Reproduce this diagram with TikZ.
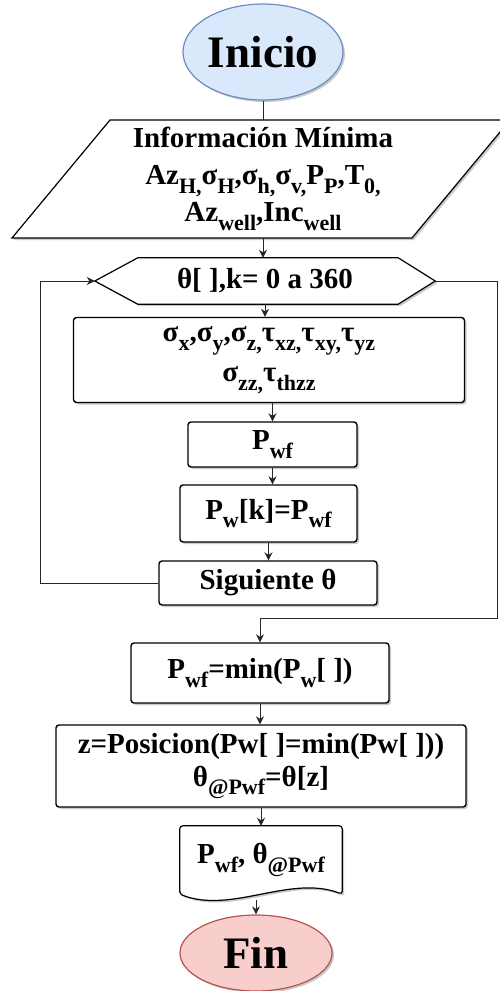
\documentclass[tikz,border=0pt]{standalone}
\usepackage{fontspec}
\setmainfont{Liberation Serif}
\usetikzlibrary{shapes.geometric,shadows,calc,arrows.meta}
\pgfdeclarelayer{bg}
\pgfsetlayers{bg,main}
\definecolor{iniFill}{HTML}{DAE8FC}
\definecolor{iniDraw}{HTML}{6C8EBF}
\definecolor{finFill}{HTML}{F8CECC}
\definecolor{finDraw}{HTML}{B85450}
\newcommand\sbs[1]{\raisebox{-0.3em}{\fontsize{22}{22}\selectfont #1}}
\begin{document}
\begin{tikzpicture}[x=1pt,y=-1pt,
  txt/.style={font=\fontsize{29}{37}\selectfont\bfseries, align=center, inner sep=0pt},
  shad/.style={drop shadow={shadow xshift=2pt,shadow yshift=-2pt,opacity=0.3,fill=black!70}},
  box/.style={txt, draw=black, line width=1.4pt, rounded corners=3pt, fill=white, shad},
  shp/.style={draw=black, line width=1.2pt, fill=white, shad},
  term/.style={ellipse, inner sep=0pt, line width=1.2pt, shad, font=\fontsize{45}{45}\selectfont\bfseries},
  arr/.style={draw=black!85, line width=0.9pt, -{Stealth[length=8pt,width=8pt]}},
  ln/.style={draw=black!85, line width=0.9pt}]
\useasboundingbox (0,0) rectangle (500,991);

% terminals
\node[term, draw=iniDraw, fill=iniFill, minimum width=160, minimum height=96] (ini) at (263,52) {Inicio};
\node[term, draw=finDraw, fill=finFill, minimum width=152, minimum height=76] (fin) at (256,953) {Fin};

% input parallelogram
\node[txt, minimum width=300, minimum height=118] (inp) at (263,179)
  {Información Mínima\\
   Az\sbs{H,}σ\sbs{H},σ\sbs{h,}σ\sbs{v,}P\sbs{P},T\sbs{0,}\\
   Az\sbs{well},Inc\sbs{well}};
\begin{pgfonlayer}{bg}
\draw[shp] (110,120) -- (510,120) -- (412,238) -- (12,238) -- cycle;
\end{pgfonlayer}

% loop hexagon
\node[txt, minimum width=340, minimum height=46] (hex) at (265,281) {θ[ ],k= 0 a 360};
\begin{pgfonlayer}{bg}
\draw[shp] (hex.west) -- ($(hex.north west)+(43,0)$) -- ($(hex.north east)+(-37,0)$)
  -- (hex.east) -- ($(hex.south east)+(-37,0)$) -- ($(hex.south west)+(43,0)$) -- cycle;
\end{pgfonlayer}

% process boxes
\node[box, minimum width=391, minimum height=85] (b1) at (269,360)
  {σ\sbs{x},σ\sbs{y},σ\sbs{z,}τ\sbs{xz,}τ\sbs{xy,}τ\sbs{yz}\\[3pt] σ\sbs{zz,}τ\sbs{thzz}};
\node[box, minimum width=169, minimum height=45] (b2) at (272.5,444.5) {P\sbs{wf}};
\node[box, minimum width=177, minimum height=57] (b3) at (268.5,513.5) {P\sbs{w}[k]=P\sbs{wf}};
\node[box, minimum width=218, minimum height=44] (b4) at (268,583) {Siguiente θ};
\node[box, minimum width=258, minimum height=60] (b5) at (260,673) {P\sbs{wf}=min(P\sbs{w}[ ])};
\node[box, minimum width=410, minimum height=82] (b6) at (261,766)
  {z=Posicion(Pw[ ]=min(Pw[ ]))\\[-4pt] θ\sbs{@Pwf}=θ[z]};

% output document
\node[txt, minimum width=162, minimum height=68] (doc) at (261,860) {P\sbs{wf}, θ\sbs{@Pwf}};
\begin{pgfonlayer}{bg}
\draw[shp, rounded corners=3pt] (doc.south west) -- (doc.north west) -- (doc.north east) -- (doc.south east)
  .. controls +(-52,-20) and +(52,20) .. (doc.south west) -- cycle;
\end{pgfonlayer}

% connectors
\draw[ln] (ini.south) -- (ini.south |- inp.north);
\draw[arr] (inp.south) -- (inp.south |- hex.north);
\draw[arr] (hex.south) -- (hex.south |- b1.north);
\draw[arr] (b1.south -| b2.north) -- (b2.north);
\draw[arr] (b2.south) -- (b2.south |- b3.north);
\draw[arr] (b3.south) -- (b3.south |- b4.north);
\coordinate (lp) at (40,583);
\draw[arr] (b4.west) -- (lp) |- (hex.west);
\coordinate (rp) at (497,618);
\draw[arr] (hex.east) -| (rp) -| (b5.north);
\draw[arr] (b5.south) -- (b5.south |- b6.north);
\draw[arr] (b6.south) -- (b6.south |- doc.north);
\draw[arr] (doc.south -| fin.north) ++(0,6) -- (fin.north);
\end{tikzpicture}
\end{document}
